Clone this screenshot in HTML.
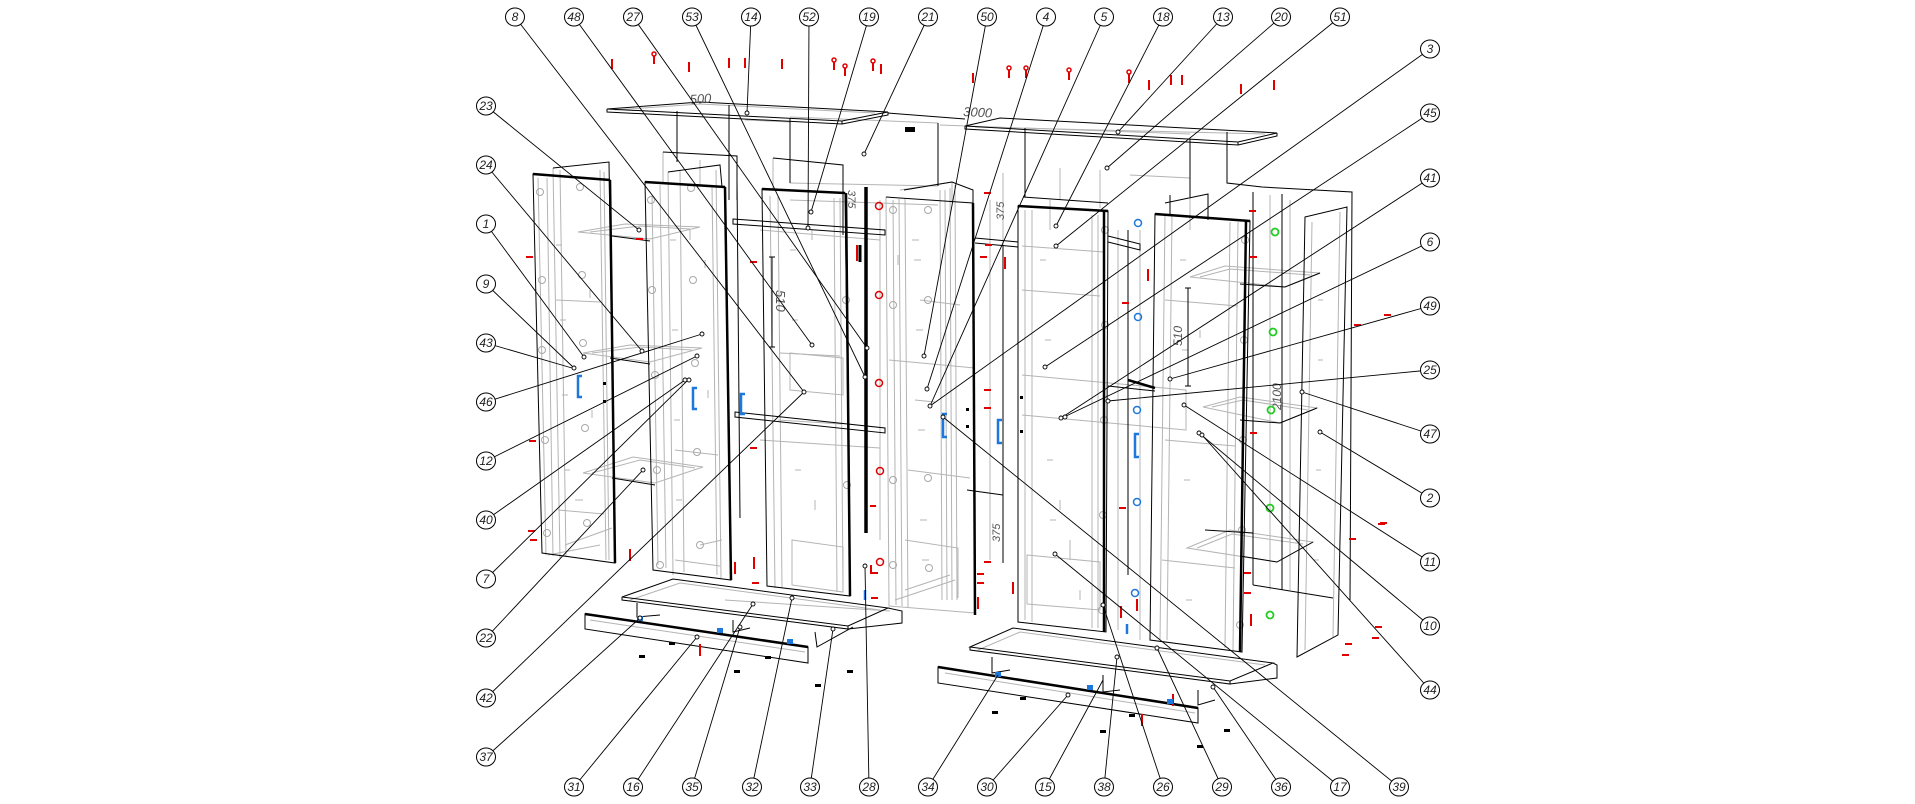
<!DOCTYPE html>
<html><head><meta charset="utf-8"><style>
html,body{margin:0;padding:0;background:#fff;}
svg{display:block}
text{font-family:"Liberation Sans",sans-serif;}
</style></head><body>
<svg width="1915" height="804" viewBox="0 0 1915 804" xmlns="http://www.w3.org/2000/svg">
<rect width="1915" height="804" fill="#fff"/>

<!-- ================= GREY DETAIL ================= -->
<g stroke="#b4b4b4" stroke-width="1" fill="none">
  <!-- top panels inner -->
  <path d="M615,110 L700,104 L875,113"/>
  <path d="M975,127 L1265,134"/>
  <path d="M790,117 L938,123"/>
  <path d="M1025,128 L1190,134"/>
  <path d="M745,120 L790,122"/><path d="M940,125 L1020,128"/>
  <!-- left door 1 inner -->
  <path d="M553,168 L560,558"/><path d="M547,178 L553,556"/><path d="M600,170 L606,560"/>
  <path d="M538,178 L546,555"/><path d="M604,172 L609,560"/><path d="M560,170 L566,556"/>
  <path d="M556,300 L600,302"/><path d="M558,510 L604,514"/>
  <path d="M565,545 L612,528"/><path d="M548,555 L600,545"/>
  <!-- left shelves -->
  <path d="M578,232 L625,224 L700,227 L650,239 Z"/>
  <path d="M583,353 L630,345 L702,348 L650,362 Z"/>
  <path d="M583,473 L633,457 L703,467 L655,483 Z"/>
  <path d="M590,232 L640,226 L690,229"/><path d="M592,353 L640,347 L692,350"/><path d="M592,473 L640,460 L695,468"/>
  <!-- door 2 inner -->
  <path d="M668,172 L673,575"/><path d="M716,170 L721,578"/><path d="M652,195 L658,565"/>
  <path d="M660,185 L666,568"/><path d="M712,185 L717,575"/><path d="M680,170 L684,572"/>
  <path d="M675,450 L718,455"/><path d="M675,560 L720,566"/>
  <path d="M700,545 L722,540"/>
  <!-- behind door2 panel -->
  <path d="M663,152 L663,182"/><path d="M700,160 L700,185"/>
  <!-- door 3 inner -->
  <path d="M770,196 L775,588"/><path d="M840,198 L843,592"/>
  <path d="M778,196 L782,588"/><path d="M834,198 L837,592"/>
  <path d="M792,540 L843,547 L843,592 L792,585 Z"/>
  <path d="M780,353 L840,356"/><path d="M778,420 L842,424"/>
  <path d="M790,353 L843,358 L843,395 L790,390 Z"/>
  <!-- center back -->
  <path d="M773,158 L773,190"/><path d="M790,183 L938,186"/>
  <path d="M760,230 L880,240"/><path d="M760,440 L880,448"/>
  <path d="M790,200 L938,205"/><path d="M880,200 L880,540"/>
  <!-- door 4 grey panel -->
  <path d="M886,197 L889,606 L975,613"/>
  <path d="M893,200 L896,605"/><path d="M899,199 L902,606"/><path d="M905,198 L908,607"/>
  <path d="M940,190 L942,600"/><path d="M945,190 L947,600"/><path d="M950,188 L952,600"/><path d="M955,185 L957,600"/>
  <path d="M900,190 L952,182 L952,203"/>
  <path d="M905,540 L958,548 L958,598"/><path d="M908,470 L970,478"/>
  <path d="M889,360 L975,368"/><path d="M905,590 L950,575"/><path d="M895,600 L955,580"/>
  <path d="M920,300 L960,305"/><path d="M915,400 L935,402"/>
  <!-- door 5 inner -->
  <path d="M1025,210 L1025,620"/><path d="M1098,215 L1098,628"/>
  <path d="M1032,210 L1032,622"/><path d="M1092,215 L1092,628"/>
  <path d="M1022,290 L1100,296"/><path d="M1022,375 L1186,390 L1186,430 L1022,415"/>
  <path d="M1027,555 L1100,562 L1100,610 L1027,604 Z"/>
  <path d="M1022,246 L1104,252"/>
  <!-- behind door5 -->
  <path d="M1060,168 L1060,200"/><path d="M1100,170 L1100,208"/>
  <path d="M1130,175 L1190,178 L1190,230"/>
  <path d="M1140,230 L1140,640"/><path d="M1118,230 L1118,630"/>
  <!-- door 6 inner -->
  <path d="M1165,215 L1160,640"/><path d="M1238,222 L1233,650"/>
  <path d="M1172,215 L1167,640"/><path d="M1230,222 L1225,648"/>
  <path d="M1165,440 L1235,446"/><path d="M1162,560 L1235,568"/>
  <path d="M1165,300 L1238,306"/>
  <!-- right shelves -->
  <path d="M1190,277 L1225,266 L1320,273 L1285,287 Z"/>
  <path d="M1203,407 L1240,397 L1317,408 L1280,423 Z"/>
  <path d="M1187,548 L1230,530 L1313,542 L1277,562 Z"/>
  <path d="M1200,277 L1230,269 L1310,275"/><path d="M1212,407 L1243,400 L1308,410"/><path d="M1197,548 L1232,534 L1303,544"/>
  <!-- right side panel inner -->
  <path d="M1312,222 L1305,650"/><path d="M1340,212 L1333,637"/>
  <path d="M1290,200 L1290,590"/><path d="M1270,195 L1270,590"/>
  <!-- left slab inner -->
  <path d="M630,600 L680,583 L880,610"/><path d="M590,620 L805,652"/>
  <path d="M978,650 L1020,632 L1265,665"/><path d="M945,673 L1195,713"/>
  <!-- misc center grey -->
  <path d="M1003,173 L1003,563"/><path d="M990,200 L990,560"/>
  <path d="M1050,200 L1050,230"/><path d="M1070,540 L1070,560"/>
  <path d="M725,600 L890,611"/>
  <!-- small grey ticks -->
  <path d="M556,245h6"/><path d="M560,320h6"/><path d="M562,395h6"/><path d="M564,470h6"/><path d="M575,500h8"/><path d="M590,290v8"/><path d="M592,410v8"/>
  <path d="M670,240h6"/><path d="M672,330h6"/><path d="M674,420h6"/><path d="M676,500h6"/><path d="M705,260v8"/><path d="M708,390v8"/><path d="M690,230v10"/>
  <path d="M790,250h6"/><path d="M792,320h6"/><path d="M795,470h6"/><path d="M812,230v10"/><path d="M815,500v10"/>
  <path d="M912,240h7"/><path d="M914,260h7"/><path d="M916,330h7"/><path d="M918,430h7"/><path d="M920,520h7"/><path d="M922,560h7"/><path d="M898,255v10"/>
  <path d="M1040,260h6"/><path d="M1045,340h6"/><path d="M1047,460h6"/><path d="M1050,520h6"/><path d="M1060,500v10"/><path d="M1080,590v10"/>
  <path d="M1180,260h6"/><path d="M1182,350h6"/><path d="M1184,480h6"/><path d="M1186,600h6"/><path d="M1200,330v8"/>
  <path d="M1318,300h5"/><path d="M1318,360h5"/><path d="M1316,470h5"/><path d="M1314,560h5"/>
</g>
<!-- grey hinge circles -->
<g stroke="#a8a8a8" stroke-width="1" fill="none">
  <circle cx="540" cy="192" r="3.5"/><circle cx="580" cy="187" r="3.5"/>
  <circle cx="542" cy="280" r="3.5"/><circle cx="582" cy="275" r="3.5"/>
  <circle cx="542" cy="350" r="3.5"/><circle cx="583" cy="343" r="3.5"/>
  <circle cx="545" cy="440" r="3.5"/><circle cx="585" cy="428" r="3.5"/>
  <circle cx="547" cy="533" r="3.5"/><circle cx="587" cy="523" r="3.5"/>
  <circle cx="651" cy="200" r="3.5"/><circle cx="691" cy="188" r="3.5"/>
  <circle cx="652" cy="290" r="3.5"/><circle cx="693" cy="280" r="3.5"/>
  <circle cx="655" cy="375" r="3.5"/><circle cx="695" cy="363" r="3.5"/>
  <circle cx="657" cy="470" r="3.5"/><circle cx="697" cy="452" r="3.5"/>
  <circle cx="660" cy="565" r="3.5"/><circle cx="700" cy="545" r="3.5"/>
  <circle cx="846" cy="300" r="3.5"/><circle cx="847" cy="485" r="3.5"/>
  <circle cx="893" cy="210" r="3.5"/><circle cx="928" cy="210" r="3.5"/>
  <circle cx="893" cy="305" r="3.5"/><circle cx="928" cy="300" r="3.5"/>
  <circle cx="893" cy="480" r="3.5"/><circle cx="928" cy="478" r="3.5"/>
  <circle cx="893" cy="565" r="3.5"/><circle cx="929" cy="568" r="3.5"/>
  <circle cx="1105" cy="230" r="3.5"/><circle cx="1105" cy="325" r="3.5"/><circle cx="1104" cy="420" r="3.5"/><circle cx="1103" cy="515" r="3.5"/><circle cx="1102" cy="610" r="3.5"/>
  <circle cx="1245" cy="240" r="3.5"/><circle cx="1244" cy="340" r="3.5"/><circle cx="1243" cy="440" r="3.5"/><circle cx="1242" cy="530" r="3.5"/><circle cx="1240" cy="625" r="3.5"/>
</g>

<!-- ================= BLACK STRUCTURE ================= -->
<g stroke="#000" stroke-width="1" fill="none">
  <!-- top-left top panel -->
  <path d="M607,109 L700,102 L888,112 L842,121 Z"/>
  <path d="M607,109 L607,112 L842,124 L842,121"/><path d="M888,112 L888,115 L842,124"/>
  <!-- dimension line continuation -->
  <path d="M888,113 L965,119"/>
  <!-- right top panel -->
  <path d="M965,126 L1000,118 L1277,133 L1238,142 Z"/>
  <path d="M965,126 L965,129 L1238,145 L1238,142"/><path d="M1277,133 L1277,136 L1238,145"/>
  <!-- vertical struts from top -->
  <path d="M677,111 L677,162"/><path d="M729,105 L729,200"/>
  <!-- panel behind door 2 -->
  <path d="M663,152 L737,156 L737,200"/>
  <path d="M737,180 L740,518"/>
  <!-- back panel 21 -->
  <path d="M790,118 L790,183"/><path d="M938,123 L938,186"/>
  <!-- panel 52 -->
  <path d="M773,158 L843,165 L843,235"/>
  <!-- right back panel 20 -->
  <path d="M1025,128 L1025,197"/><path d="M1190,139 L1190,197"/><path d="M1023,197 L1108,203"/>
  <path d="M1227,132 L1227,183 L1262,187 L1352,192 L1350,600"/>
  <path d="M1253,192 L1253,585"/><path d="M1282,194 L1282,590"/><path d="M1253,585 L1333,598"/>
  <path d="M1165,203 L1208,194 L1208,220"/>
  <!-- left side panel behind door 1 -->
  <path d="M553,168 L609,162 L615,560"/>
  <!-- door 1 -->
  <path d="M533,174 L610,180 L615,563 L542,553 Z"/>
  <!-- door 2 -->
  <path d="M668,172 L720,165 L722,187"/>
  <path d="M645,182 L725,187 L731,580 L653,570 Z"/>
  <!-- door 3 -->
  <path d="M762,189 L845,193 L850,596 L767,586 Z"/>
  <!-- door 4 top -->
  <path d="M886,197 L973,203"/><path d="M904,190 L952,182 L973,190 L973,203"/>
  <!-- frame between 4 and 5 -->
  <path d="M975,238 L1018,242"/><path d="M975,243 L1018,247"/><path d="M967,490 L1003,495"/>
  <path d="M1003,245 L1003,563"/>
  <!-- door 5 -->
  <path d="M1018,206 L1108,211 L1106,632 L1018,622 Z"/>
  <path d="M1128,230 L1128,575"/><path d="M1108,386 L1155,391"/>
  <!-- door 6 -->
  <path d="M1155,214 L1250,221 L1242,652 L1150,640 Z"/>
  <path d="M1170,195 L1170,214"/>
  <!-- right side panel -->
  <path d="M1305,217 L1347,207 L1338,635 L1297,657 Z"/>
  <!-- right shelves black edges -->
  <path d="M1240,284 L1285,287 L1320,273"/>
  <path d="M1240,420 L1280,423 L1317,408"/>
  <path d="M1240,556 L1277,562 L1313,542"/>
  <path d="M1205,530 L1253,533"/>
  <!-- left shelves black edges -->
  <path d="M612,236 L650,241"/><path d="M610,358 L650,364"/><path d="M612,478 L655,485"/>
  <!-- rails -->
  <path d="M733,219 L885,230 L885,235 L733,224 Z"/>
  <path d="M735,412 L885,428 L885,433 L735,417 Z"/>
  <path d="M1108,236 L1140,244 L1140,250 L1108,242"/>
  <!-- left slab -->
  <path d="M622,597 L673,579 L888,608 L848,626 Z"/>
  <path d="M622,597 L622,600 L848,629 L848,626"/><path d="M888,608 L902,611 L902,623 L848,629"/>
  <path d="M637,603 L637,617 L660,615"/><path d="M733,620 L733,632 L750,628"/><path d="M815,632 L817,647 L853,627"/>
  <!-- left front bar -->
  <path d="M585,614 L808,647 L808,663 L585,629 Z"/>
  <!-- right slab -->
  <path d="M970,647 L1013,628 L1273,663 L1230,681 Z"/>
  <path d="M970,647 L970,650 L1230,684 L1230,681"/><path d="M1273,663 L1277,665 L1277,678 L1230,684"/>
  <path d="M992,657 L992,673 L1010,670"/><path d="M1103,675 L1103,692 L1120,690"/><path d="M1198,690 L1198,705 L1215,700"/>
  <!-- right front bar -->
  <path d="M938,667 L1198,708 L1198,723 L938,683 Z"/>
</g>
<!-- thick edges -->
<g stroke="#000" stroke-width="2.5" fill="none">
  <path d="M610,180 L615,563"/><path d="M725,187 L731,580"/><path d="M846,193 L850,596"/>
  <path d="M973,203 L975,615"/><path d="M1104,211 L1104,632"/><path d="M1246,221 L1240,652"/>
  <path d="M533,174 L610,180"/><path d="M645,182 L725,187"/><path d="M762,189 L845,193"/>
  <path d="M1018,206 L1108,211"/><path d="M1155,214 L1250,221"/>
  <path d="M585,614 L808,647"/><path d="M938,667 L1198,708"/>
  <path d="M1128,380 L1155,388"/>
</g>
<path d="M866,187 L866,533" stroke="#000" stroke-width="3.5"/>
<path d="M860,245 L860,262" stroke="#000" stroke-width="3"/>

<!-- dimension marks -->
<g stroke="#000" stroke-width="1" fill="none">
  <path d="M772,257 L772,347"/><path d="M769,257h6"/><path d="M769,347h6"/>
  <path d="M1188,288 L1188,386"/><path d="M1185,288h6"/><path d="M1185,386h6"/>
</g>
<g fill="#555" font-style="italic" font-size="13">
  <text x="690" y="104" transform="rotate(-4 690 104)">500</text>
  <text x="963" y="116" transform="rotate(3 963 116)">3000</text>
  <text transform="translate(776,290) rotate(90)">510</text>
  <text transform="translate(848,190) rotate(90)" font-size="11">375</text>
  <text transform="translate(1004,220) rotate(-90)" font-size="11">375</text>
  <text transform="translate(1000,542) rotate(-90)" font-size="11">375</text>
  <text transform="translate(1182,346) rotate(-90)" font-size="12">510</text>
  <text transform="translate(1281,410) rotate(-90)" font-size="12">2100</text>
</g>

<!-- ================= RED MARKERS ================= -->
<g stroke="#e00000" stroke-width="2" fill="none">
  <path d="M612,59v10"/><path d="M654,56v8"/><path d="M689,62v10"/><path d="M729,58v10"/><path d="M745,58v10"/>
  <path d="M782,59v10"/><path d="M834,62v8"/><path d="M845,68v8"/><path d="M873,63v8"/><path d="M881,64v10"/>
  <path d="M973,73v10"/><path d="M1009,70v8"/><path d="M1026,70v8"/><path d="M1069,72v8"/><path d="M1129,74v9"/>
  <path d="M1149,80v10"/><path d="M1171,75v10"/><path d="M1182,75v10"/><path d="M1241,84v10"/><path d="M1274,80v10"/>
  <!-- dashes -->
  <path d="M526,257h7"/><path d="M529,441h7"/><path d="M528,531h7"/><path d="M530,540h7"/>
  <path d="M636,239h7"/><path d="M750,262h7"/><path d="M750,448h7"/>
  <path d="M630,549v12"/><path d="M735,562v12"/><path d="M754,557v12"/><path d="M752,583h7"/>
  <path d="M870,506h6"/><path d="M984,193h7"/><path d="M985,245h7"/><path d="M980,257h7"/><path d="M1005,257v12"/>
  <path d="M984,390h7"/><path d="M984,408h7"/><path d="M984,562h7"/><path d="M977,574h7"/><path d="M977,583h7"/>
  <path d="M978,597v12"/><path d="M1013,582v12"/>
  <path d="M1249,211h7"/><path d="M1250,257h7"/><path d="M1148,269v12"/><path d="M1122,303h7"/>
  <path d="M1119,508h7"/><path d="M1250,433h7"/><path d="M1244,573h7"/><path d="M1244,593h7"/><path d="M1251,614v12"/>
  <path d="M1137,599v12"/><path d="M1121,606v12"/><path d="M1142,714v12"/><path d="M1173,694v12"/>
  <path d="M1384,315h7"/><path d="M1354,325h7"/><path d="M1378,524h7"/><path d="M1349,539h7"/>
  <path d="M1375,627h7"/><path d="M1372,638h7"/><path d="M1345,644h7"/><path d="M1342,655h7"/>
  <path d="M1380,523h7"/>
  <path d="M700,644v12"/><path d="M871,565v8h7"/><path d="M871,598h7"/>
  <path d="M857,245v16"/>
</g>
<g stroke="#e00000" stroke-width="1.5" fill="none">
  <circle cx="654" cy="54" r="2"/><circle cx="834" cy="60" r="2"/><circle cx="845" cy="66" r="2"/><circle cx="873" cy="61" r="2"/>
  <circle cx="1009" cy="68" r="2"/><circle cx="1026" cy="68" r="2"/><circle cx="1069" cy="70" r="2"/><circle cx="1129" cy="72" r="2"/>
  <circle cx="879" cy="206" r="3.5"/><circle cx="879" cy="295" r="3.5"/><circle cx="879" cy="383" r="3.5"/>
  <circle cx="880" cy="471" r="3.5"/><circle cx="880" cy="562" r="3.5"/>
</g>

<!-- ================= BLUE ================= -->
<g stroke="#1e78dc" stroke-width="2.5" fill="none">
  <path d="M582,376 h-4 v21 h4"/><path d="M697,388 h-4 v21 h4"/><path d="M745,394 h-4 v20 h4"/>
  <path d="M947,414 h-4 v23 h4"/><path d="M1002,420 h-4 v23 h4"/><path d="M1139,434 h-4 v23 h4"/>
  <path d="M865,590v10"/><path d="M1127,624v10"/>
</g>
<g stroke="#1e78dc" stroke-width="1.5" fill="none">
  <circle cx="1138" cy="223" r="3.5"/><circle cx="1138" cy="317" r="3.5"/><circle cx="1137" cy="410" r="3.5"/>
  <circle cx="1137" cy="502" r="3.5"/><circle cx="1135" cy="593" r="3.5"/>
</g>
<g fill="#1e78dc">
  <rect x="637" y="616" width="6" height="5"/><rect x="717" y="628" width="6" height="5"/><rect x="787" y="639" width="6" height="5"/>
  <rect x="995" y="672" width="6" height="5"/><rect x="1087" y="685" width="6" height="5"/><rect x="1167" y="699" width="6" height="5"/>
</g>

<!-- ================= GREEN ================= -->
<g stroke="#22cc22" stroke-width="1.8" fill="none">
  <circle cx="1275" cy="232" r="3.5"/><circle cx="1273" cy="332" r="3.5"/><circle cx="1271" cy="410" r="3.5"/>
  <circle cx="1270" cy="508" r="3.5"/><circle cx="1270" cy="615" r="3.5"/>
</g>

<!-- ================= BLACK SCREWS ================= -->
<g fill="#000">
  <rect x="639" y="655" width="6" height="3"/><rect x="669" y="642" width="6" height="3"/>
  <rect x="734" y="670" width="6" height="3"/><rect x="765" y="656" width="6" height="3"/>
  <rect x="815" y="684" width="6" height="3"/><rect x="847" y="670" width="6" height="3"/>
  <rect x="992" y="711" width="6" height="3"/><rect x="1020" y="697" width="6" height="3"/>
  <rect x="1100" y="730" width="6" height="3"/><rect x="1129" y="714" width="6" height="3"/>
  <rect x="1197" y="745" width="6" height="3"/><rect x="1224" y="729" width="6" height="3"/>
  <rect x="905" y="127" width="10" height="5"/>
  <rect x="966" y="408" width="3" height="3"/><rect x="966" y="425" width="3" height="3"/>
  <rect x="1020" y="396" width="3" height="3"/><rect x="1020" y="430" width="3" height="3"/>
  <rect x="603" y="382" width="3" height="3"/><rect x="603" y="400" width="3" height="3"/>
</g>

<!-- ================= LEADER LINES ================= -->
<g stroke="#000" stroke-width="0.9" fill="none">
  <path d="M515,17 L804,392"/><path d="M574,17 L812,345"/><path d="M633,17 L867,348"/><path d="M692,17 L865,377"/>
  <path d="M751,17 L747,113"/><path d="M809,17 L808,228"/><path d="M869,17 L811,212"/><path d="M928,17 L864,154"/>
  <path d="M987,17 L924,356"/><path d="M1046,17 L927,389"/><path d="M1104,17 L930,406"/><path d="M1163,17 L1056,226"/>
  <path d="M1223,17 L1118,132"/><path d="M1281,17 L1107,168"/><path d="M1340,17 L1056,246"/>

  <path d="M486,106 L639,230"/><path d="M486,165 L642,351"/><path d="M486,224 L584,357"/><path d="M486,284 L574,368"/>
  <path d="M486,343 L572,368"/><path d="M486,402 L702,334"/><path d="M486,461 L697,356"/><path d="M486,520 L685,380"/>
  <path d="M486,579 L688,380"/><path d="M486,638 L643,470"/><path d="M486,698 L804,392"/><path d="M486,757 L640,618"/>

  <path d="M1430,49 L930,406"/><path d="M1430,113 L1045,367"/><path d="M1430,178 L1061,418"/><path d="M1430,242 L1064,417"/>
  <path d="M1430,306 L1170,379"/><path d="M1430,370 L1108,401"/><path d="M1430,434 L1302,392"/><path d="M1430,498 L1320,432"/>
  <path d="M1430,562 L1184,405"/><path d="M1430,626 L1199,433"/><path d="M1430,690 L1202,435"/>

  <path d="M574,787 L697,637"/><path d="M633,787 L753,604"/><path d="M692,787 L740,627"/><path d="M752,787 L792,598"/>
  <path d="M810,787 L833,629"/><path d="M869,787 L865,566"/><path d="M928,787 L998,675"/><path d="M987,787 L1068,695"/>
  <path d="M1045,787 L1103,680"/><path d="M1104,787 L1117,657"/><path d="M1163,787 L1103,605"/><path d="M1222,787 L1157,648"/>
  <path d="M1281,787 L1213,687"/><path d="M1340,787 L1055,554"/><path d="M1399,787 L943,417"/>
</g>
<g stroke="#000" stroke-width="0.9" fill="#fff">
  <circle cx="804" cy="392" r="2"/><circle cx="812" cy="345" r="2"/><circle cx="867" cy="348" r="2"/><circle cx="865" cy="377" r="2"/>
  <circle cx="747" cy="113" r="2"/><circle cx="808" cy="228" r="2"/><circle cx="811" cy="212" r="2"/><circle cx="864" cy="154" r="2"/>
  <circle cx="924" cy="356" r="2"/><circle cx="927" cy="389" r="2"/><circle cx="930" cy="406" r="2"/><circle cx="1056" cy="226" r="2"/>
  <circle cx="1118" cy="132" r="2"/><circle cx="1107" cy="168" r="2"/><circle cx="1056" cy="246" r="2"/>
  <circle cx="639" cy="230" r="2"/><circle cx="642" cy="351" r="2"/><circle cx="584" cy="357" r="2"/><circle cx="574" cy="368" r="2"/>
  <circle cx="702" cy="334" r="2"/><circle cx="697" cy="356" r="2"/><circle cx="685" cy="380" r="2"/><circle cx="689" cy="380" r="2"/>
  <circle cx="643" cy="470" r="2"/><circle cx="640" cy="618" r="2"/>
  <circle cx="1045" cy="367" r="2"/><circle cx="1061" cy="418" r="2"/><circle cx="1065" cy="417" r="2"/><circle cx="1170" cy="379" r="2"/>
  <circle cx="1108" cy="401" r="2"/><circle cx="1302" cy="392" r="2"/><circle cx="1320" cy="432" r="2"/><circle cx="1184" cy="405" r="2"/>
  <circle cx="1199" cy="433" r="2"/><circle cx="1202" cy="435" r="2"/>
  <circle cx="697" cy="637" r="2"/><circle cx="753" cy="604" r="2"/><circle cx="740" cy="627" r="2"/><circle cx="792" cy="598" r="2"/>
  <circle cx="833" cy="629" r="2"/><circle cx="865" cy="566" r="2"/><circle cx="1068" cy="695" r="2"/><circle cx="1117" cy="657" r="2"/>
  <circle cx="1103" cy="605" r="2"/><circle cx="1157" cy="648" r="2"/><circle cx="1213" cy="687" r="2"/><circle cx="1055" cy="554" r="2"/>
  <circle cx="943" cy="417" r="2"/>
</g>

<!-- ================= LABELS ================= -->
<g stroke="#000" stroke-width="1" fill="#fff">
  <ellipse cx="515" cy="17" rx="9.5" ry="9"/><ellipse cx="574" cy="17" rx="9.5" ry="9"/><ellipse cx="633" cy="17" rx="9.5" ry="9"/>
  <ellipse cx="692" cy="17" rx="9.5" ry="9"/><ellipse cx="751" cy="17" rx="9.5" ry="9"/><ellipse cx="809" cy="17" rx="9.5" ry="9"/>
  <ellipse cx="869" cy="17" rx="9.5" ry="9"/><ellipse cx="928" cy="17" rx="9.5" ry="9"/><ellipse cx="987" cy="17" rx="9.5" ry="9"/>
  <ellipse cx="1046" cy="17" rx="9.5" ry="9"/><ellipse cx="1104" cy="17" rx="9.5" ry="9"/><ellipse cx="1163" cy="17" rx="9.5" ry="9"/>
  <ellipse cx="1223" cy="17" rx="9.5" ry="9"/><ellipse cx="1281" cy="17" rx="9.5" ry="9"/><ellipse cx="1340" cy="17" rx="9.5" ry="9"/>
  <ellipse cx="486" cy="106" rx="9.5" ry="9"/><ellipse cx="486" cy="165" rx="9.5" ry="9"/><ellipse cx="486" cy="224" rx="9.5" ry="9"/>
  <ellipse cx="486" cy="284" rx="9.5" ry="9"/><ellipse cx="486" cy="343" rx="9.5" ry="9"/><ellipse cx="486" cy="402" rx="9.5" ry="9"/>
  <ellipse cx="486" cy="461" rx="9.5" ry="9"/><ellipse cx="486" cy="520" rx="9.5" ry="9"/><ellipse cx="486" cy="579" rx="9.5" ry="9"/>
  <ellipse cx="486" cy="638" rx="9.5" ry="9"/><ellipse cx="486" cy="698" rx="9.5" ry="9"/><ellipse cx="486" cy="757" rx="9.5" ry="9"/>
  <ellipse cx="1430" cy="49" rx="9.5" ry="9"/><ellipse cx="1430" cy="113" rx="9.5" ry="9"/><ellipse cx="1430" cy="178" rx="9.5" ry="9"/>
  <ellipse cx="1430" cy="242" rx="9.5" ry="9"/><ellipse cx="1430" cy="306" rx="9.5" ry="9"/><ellipse cx="1430" cy="370" rx="9.5" ry="9"/>
  <ellipse cx="1430" cy="434" rx="9.5" ry="9"/><ellipse cx="1430" cy="498" rx="9.5" ry="9"/><ellipse cx="1430" cy="562" rx="9.5" ry="9"/>
  <ellipse cx="1430" cy="626" rx="9.5" ry="9"/><ellipse cx="1430" cy="690" rx="9.5" ry="9"/>
  <ellipse cx="574" cy="787" rx="9.5" ry="9"/><ellipse cx="633" cy="787" rx="9.5" ry="9"/><ellipse cx="692" cy="787" rx="9.5" ry="9"/>
  <ellipse cx="752" cy="787" rx="9.5" ry="9"/><ellipse cx="810" cy="787" rx="9.5" ry="9"/><ellipse cx="869" cy="787" rx="9.5" ry="9"/>
  <ellipse cx="928" cy="787" rx="9.5" ry="9"/><ellipse cx="987" cy="787" rx="9.5" ry="9"/><ellipse cx="1045" cy="787" rx="9.5" ry="9"/>
  <ellipse cx="1104" cy="787" rx="9.5" ry="9"/><ellipse cx="1163" cy="787" rx="9.5" ry="9"/><ellipse cx="1222" cy="787" rx="9.5" ry="9"/>
  <ellipse cx="1281" cy="787" rx="9.5" ry="9"/><ellipse cx="1340" cy="787" rx="9.5" ry="9"/><ellipse cx="1399" cy="787" rx="9.5" ry="9"/>
</g>
<g fill="#222" font-size="12" font-style="italic" text-anchor="middle">
  <text x="515" y="21">8</text><text x="574" y="21">48</text><text x="633" y="21">27</text><text x="692" y="21">53</text>
  <text x="751" y="21">14</text><text x="809" y="21">52</text><text x="869" y="21">19</text><text x="928" y="21">21</text>
  <text x="987" y="21">50</text><text x="1046" y="21">4</text><text x="1104" y="21">5</text><text x="1163" y="21">18</text>
  <text x="1223" y="21">13</text><text x="1281" y="21">20</text><text x="1340" y="21">51</text>

  <text x="486" y="110">23</text><text x="486" y="169">24</text><text x="486" y="228">1</text><text x="486" y="288">9</text>
  <text x="486" y="347">43</text><text x="486" y="406">46</text><text x="486" y="465">12</text><text x="486" y="524">40</text>
  <text x="486" y="583">7</text><text x="486" y="642">22</text><text x="486" y="702">42</text><text x="486" y="761">37</text>

  <text x="1430" y="53">3</text><text x="1430" y="117">45</text><text x="1430" y="182">41</text><text x="1430" y="246">6</text>
  <text x="1430" y="310">49</text><text x="1430" y="374">25</text><text x="1430" y="438">47</text><text x="1430" y="502">2</text>
  <text x="1430" y="566">11</text><text x="1430" y="630">10</text><text x="1430" y="694">44</text>

  <text x="574" y="791">31</text><text x="633" y="791">16</text><text x="692" y="791">35</text><text x="752" y="791">32</text>
  <text x="810" y="791">33</text><text x="869" y="791">28</text><text x="928" y="791">34</text><text x="987" y="791">30</text>
  <text x="1045" y="791">15</text><text x="1104" y="791">38</text><text x="1163" y="791">26</text><text x="1222" y="791">29</text>
  <text x="1281" y="791">36</text><text x="1340" y="791">17</text><text x="1399" y="791">39</text>
</g>
</svg>
</body></html>
